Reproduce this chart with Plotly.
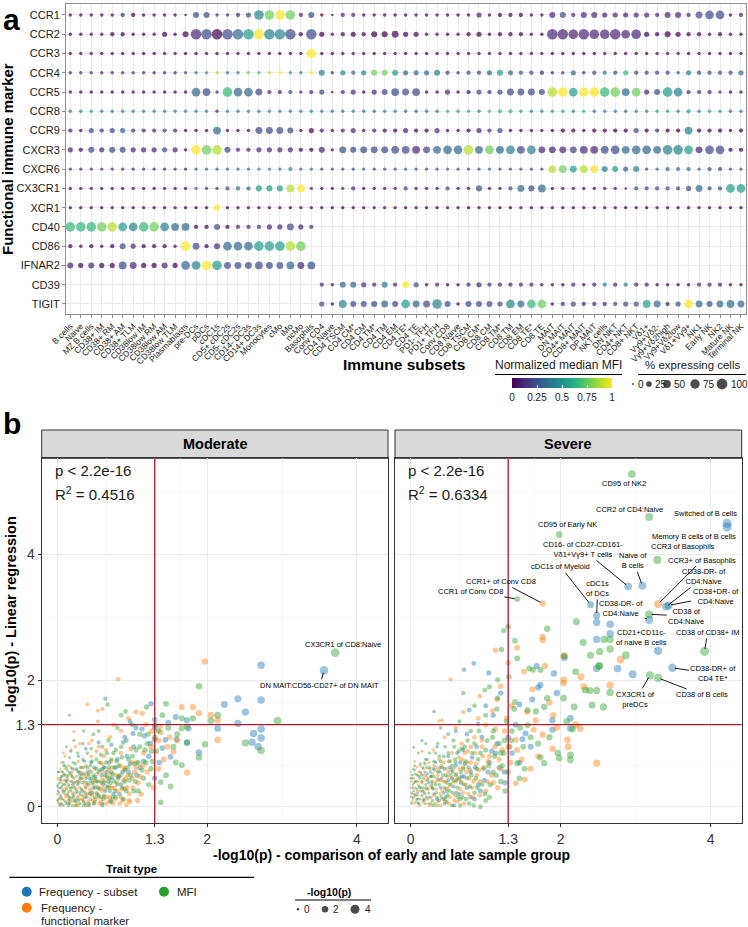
import plotly.graph_objects as go

W, H = 748, 927
FONT = "Liberation Sans, Arial, Helvetica, sans-serif"
INK = "#1a1a1a"

# ------------------------------------------------------------------ panel a data
subsets = ["B cells", "Naive", "MZ B cells", "CD38+ IM", "CD38+ RM", "CD38+ AM", "CD38+ TLM",
           "CD38low IM", "CD38low RM", "CD38low AM", "CD38low TLM", "Plasmablasts", "pre-DCs", "pDCs",
           "cDC1s", "CD5+ cDC2s", "CD5- cDC2s", "CD14- DC3s", "CD14+ DC3s", "Monocytes", "cMo", "iMo",
           "ncMo", "Basophils", "Conv CD4", "CD4 Naive", "CD4 TSCM", "CD4 CM*", "CD4 CM", "CD4 TM*",
           "CD4 TM", "CD4 EM", "CD4 TE*", "CD4 TE", "PD1- TFH", "PD1+ TFH", "Conv CD8", "CD8 Naive",
           "CD8 TSCM", "CD8 CM*", "CD8 CM", "CD8 TM*", "CD8 TM", "CD8 EM", "CD8 TE*", "CD8 TE", "MAIT",
           "DN MAIT", "CD4+ MAIT", "CD8+ MAIT", "DP MAIT", "NKT cells", "DN NKT", "CD4+ NKT", "CD8+ NKT",
           "Vδ1+", "Vγ9+Vδ2-", "Vγ9+Vδ2high", "Vγ9+Vδ2low", "Vδ1+Vγ9+", "NK1", "Early NK", "NK2",
           "Mature NK", "Terminal NK"]
markers = ["CCR1", "CCR2", "CCR3", "CCR4", "CCR5", "CCR8", "CCR9", "CXCR3", "CXCR6", "CX3CR1",
           "XCR1", "CD40", "CD86", "IFNAR2", "CD39", "TIGIT"]

# normalized median MFI, one character per subset: level 0..9 (value = level/9), '.' = not measured
mfi_rows = [
    "000001000000" "2211124797120" "011000000000001000000" "1211111111111122201",
    "000000000000" "1202359442020" "000000000000000000000" "1111111110000000000",
    "000000000000" "0000000000090" "000000000000000000000" "0000000000000000000",
    "111111111112" "4584476895494" "143477533342122353221" "1131242622222422223",
    "000000000000" "3216332112112" "011012222001002122222" "8959967371254111100",
    "445444444444" "4414444444444" "334334333336554666544" "5546344344554545534",
    "102123111210" "0030002222001" "011010010010001120000" "0000000020100400000",
    "102122111210" "9782111111001" "022222221233383734241" "1121122333344512200",
    "111111111111" "3333334434332" "222322232223222322222" "8758945342333322222",
    "000000000000" "2112335558910" "011000020002002002323" "0000000022222232255",
    "000000000000" "0090000000000" "000000000000000000000" "0000000000000000000",
    "666785467433" "002011111211." "....................." "...................",
    "000002100009" "20133355587.." "....................." "...................",
    "101002100103" "495222222312." "....................." "...................",
    "............" "............1" "033114192010011111110" "0010141411000011100",
    "............" "............2" "042223253242022224367" "0121112225312932333",
]
# % expressing cells, one character per subset: size level 0..9, '.' = not measured
pct_rows = [
    "111112211110" "4411238888241" "022111111111113122211" "4424433333244257712",
    "111122111314" "9999999999293" "123244533111123122211" "9989889783243221211",
    "111111111111" "1111111111181" "111111111111111111111" "1111111111111111111",
    "111111111111" "1111111111114" "132344433342122343222" "1131222322221322223",
    "111111111111" "7618775222123" "023134656113123235554" "8878888673487222111",
    "111111111111" "1111111111111" "111111111111111122111" "1111111111111211111",
    "213233222221" "1161115554132" "123122232231123231111" "1221222232222622212",
    "324344333331" "8884223333224" "154555666567786767675" "5556667677688757722",
    "111111111111" "1111111112111" "111111111111111111111" "6656644341122212211",
    "111111111111" "1112224446611" "112111121112114112546" "1111111022222352277",
    "111111111111" "1141111111111" "111111111111111111111" "1111111111111111111",
    "888887788766" "224222233532." "....................." "...................",
    "212124322218" "52477788888.." "....................." "...................",
    "434336533437" "788555655656." "....................." "...................",
    "............" "............2" "144324253121123222221" "1121222222111122211",
    "............" "............3" "164445475584144437577" "1232222336523754565",
]
pct_of_level = [2, 7, 13, 20, 29, 39, 51, 64, 79, 96]
size_legend_pct = [0, 25, 50, 75, 100]
mfi_ticks = [0, 0.25, 0.5, 0.75, 1]

# ------------------------------------------------------------------ panel b data
trait_names = ["Frequency - subset", "Frequency - functional marker", "MFI"]
trait_colors = ["#1F77B4", "#FF7F0E", "#2CA02C"]

mod_subset = [(3.56, 2.16), (2.72, 2.24), (2.41, 1.71), (2.72, 1.69), (2.23, 1.62), (2.51, 1.50), (2.41, 1.32),
              (2.62, 1.16), (2.72, 1.23), (2.72, 1.09), (2.60, 1.02), (2.68, 0.95), (2.14, 1.24), (1.89, 0.86),
              (1.73, 1.37), (1.25, 1.63), (0.64, 1.71), (1.48, 1.33), (1.73, 1.02), (1.44, 1.06), (1.51, 0.79),
              (0.97, 1.35), (1.40, 0.93), (1.16, 1.12), (1.05, 1.25), (0.90, 1.10), (0.72, 0.98), (0.55, 1.02),
              (0.38, 0.92), (0.45, 0.70), (0.62, 0.62), (0.80, 0.75), (0.95, 0.55), (1.10, 0.62), (1.22, 0.80),
              (0.30, 0.45), (0.20, 0.60), (0.10, 0.35), (0.05, 0.15), (0.15, 0.10), (0.25, 0.22), (0.35, 0.08),
              (0.48, 0.30), (0.55, 0.18), (0.68, 0.40), (0.75, 0.20), (0.85, 0.35), (0.02, 0.55), (0.08, 0.70),
              (0.12, 0.05), (0.40, 0.55), (0.28, 0.80), (0.18, 0.88), (1.30, 0.45), (1.36, 0.70), (0.60, 0.05),
              (0.42, 0.02), (0.05, 0.42), (0.22, 0.38), (0.33, 0.25), (0.50, 0.48), (0.88, 1.02), (1.30, 1.38),
              (1.30, 1.25), (0.03, 0.02), (0.07, 0.25), (0.13, 0.48), (0.17, 0.30), (0.26, 0.60), (0.36, 0.72),
              (1.58, 1.42), (1.75, 1.24), (1.59, 1.07), (1.13, 1.23), (1.01, 1.16), (1.30, 1.06),
              (0.04, 0.30), (0.09, 0.52), (0.14, 0.18), (0.19, 0.40), (0.24, 0.08), (0.29, 0.55), (0.34, 0.38),
              (0.39, 0.15), (0.44, 0.40), (0.49, 0.62), (0.54, 0.30), (0.59, 0.50), (0.64, 0.25), (0.69, 0.70),
              (0.73, 0.45), (0.78, 0.62), (0.83, 0.20), (0.93, 0.80), (1.02, 0.95), (1.15, 0.72),
              (0.01, 0.25), (0.06, 0.48), (0.11, 0.42), (0.16, 0.55), (0.21, 0.15), (0.27, 0.35), (0.32, 0.52),
              (0.37, 0.22), (0.43, 0.45), (0.47, 0.22), (0.52, 0.40), (0.57, 0.58), (0.61, 0.35), (0.66, 0.55),
              (0.71, 0.10), (0.81, 0.45), (0.87, 0.55), (0.97, 0.68), (1.06, 0.50), (1.24, 1.00)]
mod_marker = [(1.97, 2.30), (0.81, 2.02), (1.66, 1.58), (1.81, 1.58), (1.89, 1.48), (2.05, 1.45), (2.14, 1.37),
              (2.14, 1.06), (1.73, 0.54), (1.13, 1.48), (1.37, 1.27), (1.55, 0.87), (1.47, 0.95), (0.54, 1.52),
              (0.54, 1.35), (0.22, 1.19), (0.92, 0.03), (0.95, 0.10), (1.38, 1.18), (1.60, 1.05), (1.25, 0.95),
              (1.15, 0.85), (1.05, 0.70), (0.98, 0.92), (0.90, 0.60), (0.85, 0.85), (0.78, 0.50), (0.72, 0.72),
              (0.70, 1.10), (0.65, 0.90), (0.60, 0.45), (0.58, 0.70), (0.52, 0.88), (0.50, 0.60), (0.48, 0.35),
              (0.45, 0.80), (0.42, 0.50), (0.40, 0.20), (0.38, 0.65), (0.36, 0.40), (0.34, 0.10), (0.32, 0.55),
              (0.30, 0.30), (0.28, 0.72), (0.27, 0.15), (0.25, 0.48), (0.24, 0.02), (0.22, 0.32), (0.20, 0.55),
              (0.19, 0.12), (0.18, 0.40), (0.16, 0.25), (0.15, 0.65), (0.14, 0.05), (0.13, 0.45), (0.12, 0.18),
              (0.11, 0.30), (0.10, 0.80), (0.09, 0.10), (0.08, 0.50), (0.07, 0.22), (0.06, 0.38), (0.05, 0.02),
              (0.04, 0.60), (0.03, 0.15), (0.02, 0.30), (0.01, 0.08), (0.00, 0.45), (0.00, 0.20), (0.28, 0.02),
              (0.35, 0.25), (0.44, 0.12), (0.52, 0.22), (0.58, 0.08), (0.62, 0.28), (0.66, 0.15), (0.70, 0.32),
              (0.74, 0.05), (0.80, 0.25), (0.85, 0.15), (0.88, 0.42), (0.93, 0.30), (1.00, 0.45), (1.08, 0.38),
              (1.12, 0.20), (1.20, 0.55), (1.28, 0.30), (1.35, 0.60), (1.42, 0.75), (1.50, 1.10), (1.35, 1.05),
              (1.26, 1.20), (1.18, 1.30), (0.40, 1.62), (0.60, 1.55), (0.30, 1.00), (0.18, 0.90), (0.46, 1.05),
              (0.75, 1.30), (0.85, 1.20), (0.95, 1.40), (1.05, 1.50), (0.05, 0.70), (0.15, 0.05), (0.38, 0.02),
              (0.48, 0.05), (0.20, 0.20), (0.30, 0.42), (0.10, 0.60),
              (0.02, 0.05), (0.06, 0.28), (0.09, 0.42), (0.11, 0.15), (0.14, 0.32), (0.17, 0.08), (0.19, 0.48),
              (0.21, 0.22), (0.23, 0.38), (0.26, 0.05), (0.29, 0.18), (0.31, 0.45), (0.33, 0.12), (0.37, 0.33),
              (0.39, 0.48), (0.41, 0.08), (0.43, 0.28), (0.46, 0.18), (0.49, 0.42), (0.51, 0.12), (0.53, 0.32),
              (0.56, 0.05), (0.57, 0.40), (0.59, 0.25), (0.61, 0.55), (0.63, 0.15), (0.67, 0.45), (0.69, 0.08),
              (0.71, 0.52), (0.73, 0.30), (0.77, 0.12), (0.79, 0.38), (0.83, 0.05), (0.86, 0.28), (0.89, 0.62),
              (0.91, 0.45), (0.96, 0.20), (0.99, 0.70), (1.03, 0.55), (1.07, 0.10), (0.08, 0.85), (0.24, 0.95),
              (0.42, 1.00), (0.62, 0.80), (0.55, 0.95),
              (0.03, 0.42), (0.05, 0.12), (0.07, 0.55), (0.10, 0.25), (0.12, 0.38), (0.15, 0.15), (0.17, 0.52),
              (0.20, 0.08), (0.22, 0.60), (0.25, 0.28), (0.27, 0.40), (0.30, 0.12), (0.32, 0.62), (0.35, 0.50),
              (0.38, 0.18), (0.40, 0.35), (0.43, 0.58), (0.45, 0.25), (0.47, 0.10), (0.50, 0.40), (0.53, 0.52),
              (0.55, 0.15), (0.58, 0.30), (0.60, 0.68), (0.63, 0.38), (0.65, 0.05), (0.68, 0.58), (0.70, 0.15),
              (0.73, 0.62), (0.76, 0.30), (0.81, 0.48), (0.84, 0.65), (0.87, 0.10), (0.90, 0.28), (0.94, 0.50),
              (0.97, 0.08), (1.01, 0.30), (1.05, 0.62), (1.10, 0.48), (1.14, 0.65)]
mod_mfi = [(3.71, 2.44), (1.89, 1.91), (0.67, 1.62), (0.16, 1.45), (2.94, 1.36), (2.51, 1.01), (2.72, 0.89),
           (2.14, 1.45), (2.05, 1.36), (1.97, 0.99), (1.89, 0.78), (1.73, 1.01), (1.66, 0.66), (1.66, 1.24),
           (1.73, 1.27), (1.81, 1.40), (1.66, 1.40), (1.45, 1.63), (1.19, 1.58), (0.91, 1.51), (1.51, 0.32),
           (1.38, 0.07), (1.38, 0.39), (1.30, 1.30), (1.30, 1.10), (1.32, 0.88), (1.25, 0.60), (1.20, 1.00),
           (1.15, 0.45), (1.10, 1.15), (1.05, 0.90), (1.02, 0.25), (1.00, 1.30), (0.95, 0.75), (0.92, 1.05),
           (0.90, 0.40), (0.85, 0.95), (0.82, 0.65), (0.80, 1.25), (0.78, 0.15), (0.75, 0.85), (0.72, 0.55),
           (0.70, 0.25), (0.68, 1.05), (0.65, 0.70), (0.62, 0.40), (0.60, 0.95), (0.58, 0.15), (0.55, 0.55),
           (0.52, 0.75), (0.50, 0.30), (0.48, 1.15), (0.46, 0.45), (0.44, 0.65), (0.42, 0.05), (0.40, 0.85),
           (0.38, 0.30), (0.36, 0.52), (0.34, 1.00), (0.33, 0.18), (0.31, 0.62), (0.30, 0.05), (0.29, 0.38),
           (0.27, 0.85), (0.26, 0.25), (0.25, 0.58), (0.23, 0.10), (0.22, 0.45), (0.21, 0.70), (0.20, 0.02),
           (0.19, 0.30), (0.18, 0.52), (0.17, 0.15), (0.16, 0.78), (0.15, 0.35), (0.14, 0.22), (0.13, 0.58),
           (0.12, 0.40), (0.11, 0.08), (0.10, 0.50), (0.09, 0.25), (0.08, 0.65), (0.07, 0.12), (0.06, 0.32),
           (0.05, 0.48), (0.04, 0.05), (0.03, 0.38), (0.02, 0.22), (0.01, 0.55), (0.00, 0.10), (0.00, 0.32),
           (0.12, 0.95), (0.22, 1.05), (0.35, 1.20), (0.55, 1.20), (0.85, 1.45), (1.45, 0.50), (1.55, 0.95),
           (1.60, 1.15), (1.40, 1.45), (1.35, 1.20), (1.48, 1.25), (1.58, 0.70), (0.60, 0.02), (0.72, 0.08),
           (0.88, 0.12), (0.98, 0.50), (1.08, 0.70), (0.45, 0.92), (0.25, 0.02), (0.15, 0.02), (0.35, 0.02),
           (0.50, 0.08), (0.66, 0.32), (0.76, 0.40),
           (0.01, 0.35), (0.04, 0.18), (0.06, 0.55), (0.08, 0.02), (0.10, 0.20), (0.12, 0.62), (0.14, 0.42),
           (0.16, 0.12), (0.18, 0.62), (0.20, 0.35), (0.22, 0.18), (0.24, 0.68), (0.26, 0.40), (0.28, 0.10),
           (0.30, 0.50), (0.32, 0.28), (0.34, 0.75), (0.36, 0.15), (0.38, 0.45), (0.40, 0.62), (0.42, 0.35),
           (0.44, 0.20), (0.46, 0.72), (0.48, 0.50), (0.50, 0.15), (0.52, 0.60), (0.54, 0.40), (0.56, 0.28),
           (0.58, 0.82), (0.60, 0.60), (0.62, 0.18), (0.64, 0.50), (0.66, 0.85), (0.68, 0.30), (0.70, 0.45),
           (0.72, 0.75), (0.74, 0.15), (0.76, 0.62), (0.78, 0.90), (0.80, 0.35), (0.84, 0.50), (0.86, 0.78),
           (0.92, 0.25), (0.94, 0.62), (1.00, 0.80), (1.04, 0.40), (1.10, 0.95), (1.18, 0.70), (1.22, 0.35),
           (1.26, 0.88),
           (0.02, 0.12), (0.04, 0.45), (0.06, 0.05), (0.08, 0.35), (0.10, 0.65), (0.12, 0.28), (0.14, 0.50),
           (0.16, 0.05), (0.18, 0.25), (0.20, 0.48), (0.23, 0.30), (0.25, 0.12), (0.28, 0.55), (0.30, 0.22),
           (0.33, 0.45), (0.35, 0.62), (0.37, 0.05), (0.39, 0.38), (0.41, 0.52), (0.43, 0.22), (0.45, 0.55),
           (0.47, 0.38), (0.49, 0.05), (0.51, 0.45), (0.53, 0.20), (0.56, 0.70), (0.59, 0.38), (0.61, 0.12),
           (0.63, 0.62), (0.66, 0.48), (0.69, 0.62), (0.71, 0.38), (0.74, 0.52), (0.77, 0.25), (0.79, 0.72),
           (0.82, 0.48), (0.87, 0.30), (0.90, 0.58), (0.96, 0.42), (1.03, 0.68), (1.08, 0.25), (1.13, 0.58),
           (1.17, 0.90), (1.21, 1.15), (1.27, 0.72)]

sev_subset = [(4.22, 4.49), (4.22, 4.43), (2.90, 3.49), (3.09, 3.50), (3.41, 3.17), (3.44, 3.19), (2.40, 3.20),
              (2.48, 3.03), (3.18, 2.96), (3.30, 2.47), (3.49, 2.20),
              (2.48, 2.92), (2.66, 2.89), (2.66, 2.74), (2.48, 2.65), (2.96, 2.10), (2.48, 2.19), (2.05, 2.36),
              (0.71, 2.17), (0.84, 2.27), (1.04, 2.12), (2.76, 2.19), (2.13, 1.24), (2.13, 1.40), (1.91, 2.11),
              (1.68, 2.23), (1.89, 1.37), (1.73, 1.93), (1.70, 1.89), (1.95, 1.80), (0.78, 1.53), (0.90, 1.31),
              (1.53, 1.16), (1.49, 1.07), (1.89, 1.22), (1.26, 0.38), (0.04, 0.94), (0.31, 1.51), (1.62, 1.70),
              (1.40, 1.30), (1.20, 1.80), (1.00, 1.60), (0.60, 1.20), (0.95, 1.10), (1.15, 1.00), (1.35, 0.85),
              (0.70, 0.90), (0.50, 0.80), (0.30, 0.60), (0.15, 0.40), (0.05, 0.20), (0.10, 0.05), (0.25, 0.15),
              (0.40, 0.30), (0.55, 0.45), (0.65, 0.20), (0.80, 0.55), (0.90, 0.35), (1.05, 0.70), (1.25, 0.55),
              (0.35, 0.95), (0.20, 0.75), (0.45, 0.05), (0.60, 0.65), (0.02, 0.50), (0.15, 1.05), (0.12, 0.30),
              (1.60, 0.95), (0.08, 0.12), (0.18, 0.22), (0.28, 0.35), (0.38, 0.10), (0.48, 0.25), (0.58, 0.02),
              (0.68, 0.48), (0.75, 0.30), (0.85, 0.12), (0.22, 0.52), (0.33, 0.70), (0.45, 0.60), (0.03, 0.30),
              (1.10, 1.45), (1.45, 1.62),
              (0.05, 0.58), (0.09, 0.22), (0.13, 0.55), (0.17, 0.12), (0.21, 0.30), (0.27, 0.48), (0.31, 0.20),
              (0.36, 0.55), (0.41, 0.45), (0.47, 0.15), (0.52, 0.62), (0.57, 0.32), (0.62, 0.85), (0.67, 0.38),
              (0.72, 0.68), (0.82, 0.78), (0.88, 0.95), (0.98, 0.42), (1.08, 0.88), (1.18, 0.62), (1.30, 1.10),
              (1.45, 0.70), (0.75, 1.15),
              (0.01, 0.15), (0.06, 0.40), (0.11, 0.48), (0.16, 0.25), (0.19, 0.55), (0.24, 0.38), (0.30, 0.28),
              (0.35, 0.12), (0.39, 0.62), (0.44, 0.22), (0.50, 0.42), (0.56, 0.55), (0.61, 0.22), (0.66, 0.70),
              (0.71, 0.48), (0.80, 0.15), (0.86, 0.62), (0.93, 0.25), (1.03, 0.55), (1.13, 0.85)]
sev_marker = [(3.30, 3.21), (1.76, 3.22),
              (1.76, 2.69), (1.76, 2.64), (1.42, 2.52), (1.13, 2.48), (1.30, 2.28), (0.53, 2.02), (2.80, 2.33),
              (2.66, 1.93), (2.48, 0.69), (2.26, 1.24), (2.27, 2.06), (2.04, 2.39), (1.79, 2.23), (2.04, 2.01),
              (2.04, 1.96), (1.51, 2.14), (1.20, 1.91), (1.62, 1.86), (0.92, 1.75), (0.42, 1.37), (0.38, 1.36),
              (1.09, 1.52), (1.13, 1.23), (1.40, 1.06), (1.67, 1.37), (1.64, 1.22), (1.76, 1.14), (1.89, 0.92),
              (1.70, 0.80), (1.52, 0.43), (1.40, 0.37), (2.31, 1.90), (2.20, 1.30), (1.95, 1.25), (1.55, 1.50),
              (1.35, 1.60), (1.28, 1.40), (1.15, 1.70), (1.00, 1.30), (0.95, 0.95), (1.05, 0.80), (1.20, 0.60),
              (1.30, 0.95), (1.48, 0.75), (1.60, 0.60), (0.85, 1.10), (0.75, 0.70), (0.68, 1.00), (0.60, 0.40),
              (0.55, 0.85), (0.50, 0.55), (0.45, 1.10), (0.42, 0.25), (0.38, 0.75), (0.35, 0.45), (0.32, 0.05),
              (0.30, 0.90), (0.28, 0.30), (0.25, 0.60), (0.22, 0.12), (0.20, 0.42), (0.18, 0.70), (0.16, 0.25),
              (0.14, 0.52), (0.12, 0.02), (0.10, 0.35), (0.08, 0.62), (0.06, 0.18), (0.04, 0.45), (0.02, 0.08),
              (0.00, 0.30), (0.00, 0.55), (0.52, 0.15), (0.62, 0.08), (0.70, 0.22), (0.78, 0.45), (0.82, 0.30),
              (0.88, 0.50), (0.92, 0.18), (0.98, 0.62), (1.02, 0.40), (0.65, 0.60), (0.72, 0.85), (0.80, 0.95),
              (0.90, 1.40), (0.60, 1.25), (0.25, 0.02), (0.40, 0.02), (0.46, 0.40), (0.34, 0.62), (0.15, 0.88),
              (0.05, 0.72), (0.70, 1.50), (1.85, 1.65), (1.90, 1.45), (2.10, 0.95), (2.09, 1.06),
              (0.02, 0.20), (0.05, 0.05), (0.07, 0.40), (0.09, 0.25), (0.11, 0.55), (0.13, 0.12), (0.15, 0.38),
              (0.17, 0.60), (0.19, 0.20), (0.21, 0.48), (0.23, 0.05), (0.26, 0.32), (0.29, 0.52), (0.31, 0.18),
              (0.33, 0.40), (0.36, 0.08), (0.37, 0.58), (0.40, 0.42), (0.43, 0.12), (0.44, 0.70), (0.47, 0.28),
              (0.49, 0.48), (0.51, 0.05), (0.54, 0.35), (0.57, 0.60), (0.59, 0.18), (0.63, 0.45), (0.66, 0.28),
              (0.68, 0.75), (0.71, 0.05), (0.74, 0.55), (0.77, 0.20), (0.80, 0.70), (0.84, 0.40), (0.86, 0.85),
              (0.91, 0.58), (0.96, 0.80), (1.00, 0.25), (1.08, 0.50), (1.12, 0.95), (1.18, 0.75), (1.25, 1.20),
              (1.33, 0.70), (1.42, 0.90), (1.16, 0.30),
              (0.01, 0.40), (0.03, 0.12), (0.06, 0.30), (0.08, 0.50), (0.10, 0.18), (0.12, 0.65), (0.14, 0.40),
              (0.16, 0.08), (0.18, 0.50), (0.20, 0.28), (0.23, 0.45), (0.24, 0.70), (0.27, 0.15), (0.29, 0.38),
              (0.31, 0.65), (0.34, 0.28), (0.36, 0.50), (0.39, 0.20), (0.41, 0.65), (0.44, 0.40), (0.46, 0.08),
              (0.48, 0.60), (0.50, 0.30), (0.53, 0.72), (0.55, 0.45), (0.58, 0.10), (0.61, 0.52), (0.64, 0.78),
              (0.67, 0.40), (0.70, 0.62), (0.73, 0.35), (0.76, 0.88), (0.79, 0.58), (0.83, 0.15), (0.87, 0.68),
              (0.92, 0.40), (0.95, 1.05), (1.03, 0.72), (1.10, 0.38), (1.22, 0.90)]
sev_mfi = [(2.95, 5.27), (3.18, 4.59), (1.98, 4.31), (3.29, 3.91), (1.42, 3.29), (3.18, 3.05), (3.92, 2.46),
           (3.19, 2.08), (3.30, 2.04),
           (2.21, 2.93), (2.58, 2.65), (2.66, 2.65), (2.52, 2.46), (2.66, 2.50), (2.87, 2.40), (2.52, 2.23),
           (1.82, 2.82), (1.24, 2.79), (1.30, 2.85), (1.39, 2.63), (1.21, 2.49), (2.05, 2.39), (1.42, 2.35),
           (2.42, 1.61), (2.57, 1.58), (2.66, 1.81), (2.48, 1.84), (2.39, 1.84), (2.51, 2.23), (2.20, 2.14),
           (1.58, 2.19), (1.63, 2.17), (1.73, 2.17), (1.31, 2.06), (1.16, 2.01), (0.99, 1.85), (1.16, 1.72),
           (1.39, 1.66), (1.56, 1.53), (1.67, 1.51), (1.56, 1.29), (1.78, 1.58), (1.82, 1.72), (2.04, 1.72),
           (2.18, 1.58), (2.33, 1.85), (2.08, 1.35), (2.16, 1.23), (1.96, 0.85), (1.98, 0.77), (2.13, 0.82),
           (2.13, 0.74), (1.73, 0.78), (1.78, 0.69), (1.42, 0.69), (1.24, 0.85), (0.93, 0.00), (0.70, 1.80),
           (0.85, 1.60), (1.00, 1.45), (1.10, 1.20), (1.25, 1.05), (1.35, 1.20), (1.50, 0.95), (1.60, 1.10),
           (1.70, 1.00), (1.85, 1.10), (1.20, 0.40), (1.10, 0.55), (1.00, 0.90), (0.90, 0.75), (0.80, 1.20),
           (0.75, 0.45), (0.70, 0.60), (0.65, 1.35), (0.62, 0.30), (0.58, 0.95), (0.55, 0.65), (0.52, 0.35),
           (0.50, 1.15), (0.47, 0.50), (0.44, 0.80), (0.41, 0.15), (0.39, 0.55), (0.36, 1.00), (0.33, 0.35),
           (0.31, 0.72), (0.29, 0.10), (0.27, 0.48), (0.25, 0.85), (0.23, 0.28), (0.21, 0.62), (0.19, 0.05),
           (0.17, 0.45), (0.15, 0.18), (0.13, 0.68), (0.11, 0.32), (0.09, 0.50), (0.07, 0.08), (0.05, 0.38),
           (0.03, 0.60), (0.01, 0.22), (0.00, 0.45), (0.35, 0.02), (0.48, 0.08), (0.55, 0.02), (0.66, 0.12),
           (0.78, 0.05), (0.85, 0.22), (0.95, 0.35), (1.05, 0.15), (0.88, 0.60), (0.72, 0.95), (0.60, 0.50),
           (0.40, 1.25), (0.20, 1.00), (0.10, 0.85), (1.30, 0.55), (1.45, 0.45), (1.15, 1.55), (1.05, 1.90),
           (2.30, 2.60), (2.40, 2.40),
           (0.01, 0.05), (0.03, 0.35), (0.04, 0.15), (0.06, 0.52), (0.08, 0.28), (0.10, 0.12), (0.12, 0.45),
           (0.14, 0.30), (0.16, 0.62), (0.18, 0.10), (0.20, 0.35), (0.22, 0.75), (0.24, 0.22), (0.26, 0.55),
           (0.28, 0.40), (0.30, 0.02), (0.32, 0.58), (0.34, 0.22), (0.37, 0.42), (0.38, 0.80), (0.42, 0.62),
           (0.45, 0.30), (0.46, 0.95), (0.49, 0.18), (0.51, 0.72), (0.53, 0.50), (0.56, 0.22), (0.57, 1.05),
           (0.59, 0.75), (0.61, 0.42), (0.64, 0.88), (0.67, 0.55), (0.69, 0.15), (0.73, 0.72), (0.76, 1.05),
           (0.79, 0.32), (0.82, 0.85), (0.87, 0.45), (0.91, 1.20), (0.97, 0.60), (1.02, 1.05), (1.06, 0.35),
           (1.12, 0.80), (1.18, 1.00), (1.22, 0.65), (1.28, 1.35), (1.32, 0.95), (1.38, 1.55), (1.46, 1.25),
           (1.52, 0.60), (0.84, 0.02), (0.66, 0.02), (1.00, 0.10),
           (0.02, 0.45), (0.04, 0.25), (0.05, 0.65), (0.07, 0.18), (0.09, 0.40), (0.11, 0.05), (0.13, 0.25),
           (0.15, 0.50), (0.17, 0.30), (0.19, 0.68), (0.21, 0.15), (0.23, 0.42), (0.25, 0.62), (0.27, 0.05),
           (0.29, 0.30), (0.31, 0.48), (0.33, 0.85), (0.35, 0.15), (0.38, 0.35), (0.40, 0.72), (0.43, 0.50),
           (0.45, 0.12), (0.48, 0.38), (0.50, 0.85), (0.52, 0.25), (0.54, 0.58), (0.57, 0.40), (0.60, 0.70),
           (0.63, 0.15), (0.65, 0.45), (0.68, 0.92), (0.71, 0.35), (0.74, 0.12), (0.77, 0.62), (0.81, 0.50),
           (0.85, 1.00), (0.89, 0.30), (0.93, 0.85), (0.99, 0.20), (1.04, 0.65), (1.09, 1.10), (1.14, 0.50),
           (1.20, 0.85), (1.26, 0.25), (1.34, 1.05)]

# labelled traits (x, y refer to points listed above)
mod_lab_text = ["CX3CR1 of CD8:Naive", "DN MAIT:CD56-CD27+ of DN MAIT"]
mod_lab_x = [3.71, 3.56]
mod_lab_y = [2.44, 2.16]
sev_lab_text = ["CD95 of NK2", "CCR2 of CD4:Naive", "Switched of B cells", "Memory B cells of B cells",
                "CD95 of Early NK", "CCR3 of Basophils", "CD16- of CD27-CD161-<br>Vδ1+Vγ9+ T cells",
                "Naive of<br>B cells", "CCR3+ of Basophils", "CD38-DR- of<br>CD4:Naive",
                "CD38+DR- of<br>CD4:Naive", "cDC1s of Myeloid", "cDC1s<br>of DCs", "CCR1+ of Conv CD8",
                "CCR1 of Conv CD8", "CD38-DR- of<br>CD4:Naive", "CD38 of<br>CD4:Naive",
                "CD21+CD11c-<br>of naive B cells", "CD38 of CD38+ IM", "CD38-DR+ of<br>CD4 TE*",
                "CX3CR1 of<br>preDCs", "CD38 of B cells"]
sev_lab_x = [2.95, 3.18, 4.22, 4.22, 1.98, 3.29, 2.90, 3.09, 3.30, 3.41, 3.44, 2.40, 2.48, 1.76, 1.42, 3.18,
             3.18, 3.30, 3.92, 3.49, 3.19, 3.30]
sev_lab_y = [5.27, 4.59, 4.49, 4.43, 4.31, 3.91, 3.49, 3.50, 3.21, 3.17, 3.19, 3.20, 3.03, 3.22, 3.29, 2.96,
             3.05, 2.47, 2.46, 2.20, 2.08, 2.04]
# label placement (pixel offset of the label centre from its point, and whether a leader line is drawn)
mod_lab_off = [(8, -8, False), (-4, 15, True)]
sev_lab_off = [(-8, 9, False), (-20, -8, False), (-22, -10, False), (-33, 9, False), (8, -10, False),
               (26, -13, False), (-45, -37, True), (-9, -25, True), (44, -44, True), (38, -30, True),
               (47, -9, True), (-30, -38, True), (1, -27, True), (-42, -22, True), (-47, -8, True),
               (-28, -11, True), (37, 2, True), (-17, -13, True), (3, -19, True), (41, 6, True),
               (-14, 24, True), (44, 17, True)]

stat_p = ["p < 2.2e-16", "p < 2.2e-16"]
stat_r2 = ["0.4516", "0.6334"]
b_ticks = [0, 1.3, 2, 4]
b_size_legend = [0, 2, 4]


# ------------------------------------------------------------------ helpers
def px(x):
    return x / W


def py(y):
    return 1 - y / H


def dot_size(p):  # % expressing -> marker diameter (area-linear)
    return (2.0 ** 2 + (10.8 ** 2 - 2.0 ** 2) * p / 100) ** 0.5


def pt_size(v):  # -log10(p) -> marker diameter (area-linear)
    return (2.6 ** 2 + (9.0 ** 2 - 2.6 ** 2) * max(v, 0) / 4.0) ** 0.5


def rgba(hexc, a):
    h = hexc.lstrip("#")
    return "rgba(%d,%d,%d,%.2f)" % (int(h[0:2], 16), int(h[2:4], 16), int(h[4:6], 16), a)


fig = go.Figure()

# ------------------------------------------------------------------ panel a
ax_x, ax_y, ax_c, ax_s = [], [], [], []
for r, m in enumerate(markers):
    mr, pr = mfi_rows[r], pct_rows[r]
    assert len(mr) == len(subsets) and len(pr) == len(subsets), (m, len(mr), len(pr))
    for c in range(len(subsets)):
        if mr[c] == ".":
            continue
        ax_x.append(c)
        ax_y.append(r)
        ax_c.append(int(mr[c]) / 9)
        ax_s.append(pct_of_level[int(pr[c])])

fig.add_trace(go.Scatter(
    x=ax_x, y=ax_y, mode="markers", xaxis="x", yaxis="y", hoverinfo="skip", showlegend=False,
    marker=dict(size=[dot_size(p) for p in ax_s], color=ax_c, colorscale="Viridis", cmin=0, cmax=1,
                line=dict(width=0), showscale=True,
                colorbar=dict(orientation="h", x=px(562), xanchor="center", y=py(378), yanchor="top",
                              len=100, lenmode="pixels", thickness=10, thicknessmode="pixels",
                              outlinewidth=0, xpad=0, ypad=0, tickvals=mfi_ticks,
                              ticktext=[("%g" % t) for t in mfi_ticks], ticks="inside", ticklen=3,
                              tickcolor="white", tickfont=dict(size=10, family=FONT, color=INK)))))

# ------------------------------------------------------------------ panel b
panels = [("x2", "y2", [mod_subset, mod_marker, mod_mfi]), ("x3", "y3", [sev_subset, sev_marker, sev_mfi])]
for xa, ya, groups in panels:
    for k, pts in enumerate(groups):
        xs = [p[0] for p in pts]
        ys = [p[1] for p in pts]
        fig.add_trace(go.Scatter(
            x=xs, y=ys, mode="markers", xaxis=xa, yaxis=ya, hoverinfo="skip", showlegend=False,
            marker=dict(size=[pt_size(v) for v in xs], color=rgba(trait_colors[k], 0.62), line=dict(width=0))))

# ------------------------------------------------------------------ legends (pixel overlay axis)
leg_x = [633, 649, 667, 695, 722]
fig.add_trace(go.Scatter(x=leg_x, y=[384] * 5, mode="markers", xaxis="x4", yaxis="y4", hoverinfo="skip",
                         showlegend=False,
                         marker=dict(size=[dot_size(p) for p in size_legend_pct], color="black",
                                     line=dict(width=0))))
fig.add_trace(go.Scatter(x=[26.7, 164, 26.7], y=[891.7, 891.7, 907.7], mode="markers", xaxis="x4", yaxis="y4",
                         hoverinfo="skip", showlegend=False,
                         marker=dict(size=10, color=[trait_colors[0], trait_colors[2], trait_colors[1]],
                                     line=dict(width=0))))
fig.add_trace(go.Scatter(x=[298, 325, 355], y=[909.3] * 3, mode="markers", xaxis="x4", yaxis="y4",
                         hoverinfo="skip", showlegend=False,
                         marker=dict(size=[pt_size(v) for v in b_size_legend], color="black", line=dict(width=0))))

ann = []


def text(x, y, s, size, bold=False, xanchor="center", yanchor="middle", angle=0, color=INK):
    ann.append(dict(x=px(x), y=py(y), xref="paper", yref="paper", text=("<b>%s</b>" % s) if bold else s,
                    showarrow=False, xanchor=xanchor, yanchor=yanchor, textangle=angle,
                    font=dict(size=size, family=FONT, color=color)))


text(1, 1, "a", 30, bold=True, xanchor="left", yanchor="top", color="black")
text(1, 405, "b", 30, bold=True, xanchor="left", yanchor="top", color="black")
text(8, 159, "Functional immune marker", 15, bold=True, angle=-90, color="black")
text(404, 365, "Immune subsets", 15.5, bold=True, color="black")
text(558, 365, "Normalized median MFI", 12)
text(692, 365, "% expressing cells", 11.5)
for xx, pct in zip(leg_x, size_legend_pct):
    text(xx + dot_size(pct) / 2 + 1.5, 384.5, str(pct), 10, xanchor="left")

# facet strips and stats
strip_x = [(41.7, 388), (395, 741.7)]
for (x0, x1), name in zip(strip_x, ["Moderate", "Severe"]):
    text((x0 + x1) / 2, 444, name, 14.5, bold=True, color="black")
for (x0, x1), p, r2 in zip(strip_x, stat_p, stat_r2):
    text(x0 + 11, 471, p, 15, xanchor="left")
    text(x0 + 11, 493, "R<sup>2</sup> = " + r2, 15, xanchor="left")

text(11, 614, "-log10(p) - Linear regression", 14.5, bold=True, angle=-90, color="black")
text(391, 855, "-log10(p) - comparison of early and late sample group", 14, bold=True, color="black")
text(131.7, 869, "Trait type", 11.5, bold=True, color="black")
text(37.3, 891.7, trait_names[0], 11.5, xanchor="left")
text(175, 891.7, trait_names[2], 11.5, xanchor="left")
text(38.7, 907.7, "Frequency -", 11.5, xanchor="left")
text(38.7, 920.5, "functional marker", 11.5, xanchor="left")
text(329, 892, "-log10(p)", 10.5, bold=True, color="black")
for xx, v in zip([298, 325, 355], b_size_legend):
    text(xx + pt_size(v) / 2 + 3, 909.5, str(v), 10, xanchor="left")

# trait labels
for xa, ya, labs, lx, ly, offs in [("x2", "y2", mod_lab_text, mod_lab_x, mod_lab_y, mod_lab_off),
                                   ("x3", "y3", sev_lab_text, sev_lab_x, sev_lab_y, sev_lab_off)]:
    for s, x, y, (dx, dy, line) in zip(labs, lx, ly, offs):
        if line:
            ann.append(dict(x=x, y=y, xref=xa, yref=ya, text=s, showarrow=True, arrowhead=0, arrowwidth=0.9,
                            arrowcolor="black", ax=dx, ay=dy, standoff=2.5,
                            font=dict(size=7.5, family=FONT, color="black"), align="center"))
        else:
            ann.append(dict(x=x, y=y, xref=xa, yref=ya, text=s, showarrow=False, xshift=dx, yshift=-dy,
                            xanchor="center", yanchor="middle",
                            font=dict(size=7.5, family=FONT, color="black"), align="center"))

shapes = []
for x0, x1 in strip_x:
    shapes.append(dict(type="rect", xref="paper", yref="paper", x0=px(x0), x1=px(x1), y0=py(458.3), y1=py(430),
                       fillcolor="#D9D9D9", line=dict(color="#333333", width=1), layer="below"))
for xa, ya in [("x2", "y2"), ("x3", "y3")]:
    shapes.append(dict(type="line", xref=xa, yref=ya + " domain", x0=1.3, x1=1.3, y0=0, y1=1,
                       line=dict(color="#B2182B", width=1.3)))
    shapes.append(dict(type="line", xref=xa + " domain", yref=ya, x0=0, x1=1, y0=1.3, y1=1.3,
                       line=dict(color="#B2182B", width=1.3)))
# legend title underlines
for x0, x1, yy in [(495, 622, 374.5), (638, 746, 374.5), (9.3, 254, 877.3), (295, 371, 900)]:
    shapes.append(dict(type="line", xref="paper", yref="paper", x0=px(x0), x1=px(x1), y0=py(yy), y1=py(yy),
                       line=dict(color="black", width=1.2)))

grid = "#EBEBEB"
axis_a = dict(showgrid=True, gridcolor=grid, gridwidth=1, zeroline=False, showline=True, mirror=True,
              linecolor="#8C8C8C", linewidth=1, ticks="outside", ticklen=3, tickcolor="#8C8C8C",
              automargin=False)
axis_b = dict(showgrid=True, gridcolor=grid, gridwidth=1, zeroline=False, showline=True, mirror=True,
              linecolor="#333333", linewidth=1, tickcolor="#333333", tickvals=b_ticks, tickmode="array",
              ticktext=[("%g" % t) for t in b_ticks], tickfont=dict(size=14, family=FONT, color="#333333"),
              automargin=False)
minor_x = dict(tickvals=[0.65, 1.65, 3], showgrid=True, gridcolor="#F4F4F4", gridwidth=0.6, ticks="")
minor_y = dict(tickvals=[0.65, 1.65, 3, 5], showgrid=True, gridcolor="#F4F4F4", gridwidth=0.6, ticks="")

fig.update_layout(
    template="none",
    width=W, height=H, margin=dict(l=0, r=0, t=0, b=0, autoexpand=False), paper_bgcolor="white",
    plot_bgcolor="rgba(0,0,0,0)", font=dict(family=FONT, color=INK), showlegend=False,
    xaxis=dict(domain=[px(66), px(746)], range=[-0.41, 64.48], tickmode="array",
               tickvals=list(range(len(subsets))), ticktext=subsets, tickangle=-45,
               tickfont=dict(size=8.5, family=FONT, color=INK), anchor="y", **axis_a),
    yaxis=dict(domain=[py(314), py(4)], range=[15.52, -0.57], tickmode="array",
               tickvals=list(range(len(markers))), ticktext=markers,
               tickfont=dict(size=11, family=FONT, color=INK), anchor="x", **axis_a),
    xaxis2=dict(domain=[px(41.7), px(388)], range=[-0.21, 4.415], anchor="y2", ticks="outside", ticklen=3,
                minor=minor_x, **axis_b),
    yaxis2=dict(domain=[py(823), py(458.3)], range=[-0.258, 5.52], anchor="x2", ticks="outside", ticklen=3,
                minor=minor_y, **axis_b),
    xaxis3=dict(domain=[px(395), px(741.7)], range=[-0.21, 4.415], anchor="y3", ticks="outside", ticklen=3,
                minor=minor_x, **axis_b),
    yaxis3=dict(domain=[py(823), py(458.3)], range=[-0.258, 5.52], anchor="x3", ticks="",
                showticklabels=False, minor=minor_y, **axis_b),
    xaxis4=dict(domain=[0, 1], range=[0, W], visible=False, anchor="y4", fixedrange=True, automargin=False),
    yaxis4=dict(domain=[0, 1], range=[H, 0], visible=False, anchor="x4", fixedrange=True, automargin=False),
    annotations=ann, shapes=shapes,
)

# the page's default 8px body margin would shift the figure; remove it
fig.write_html("out.html", config={"displayModeBar": False, "staticPlot": True},
               post_script="document.body.style.margin='0px';document.body.style.overflow='hidden';")
